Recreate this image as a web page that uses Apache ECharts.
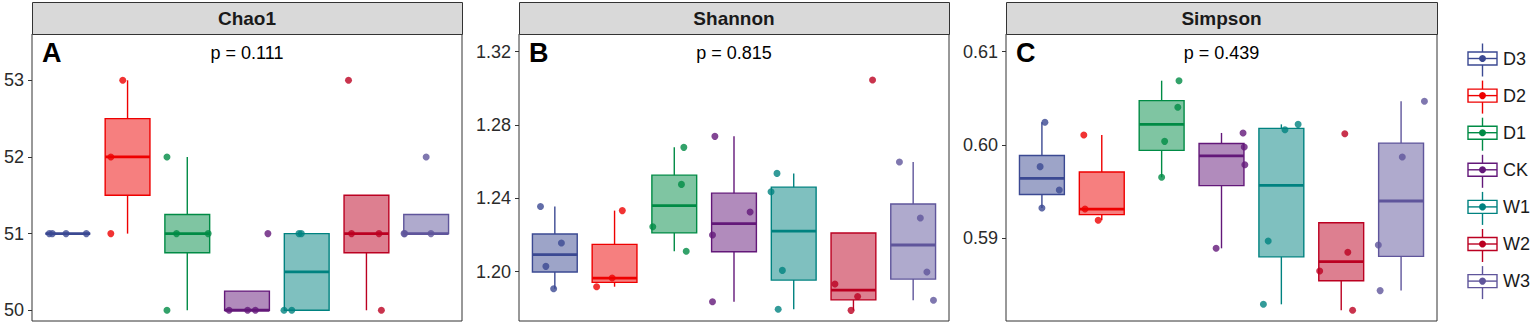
<!DOCTYPE html>
<html>
<head>
<meta charset="utf-8">
<script src="https://cdn.jsdelivr.net/npm/echarts@6/dist/echarts.min.js"></script>
<style>
html,body{margin:0;padding:0;background:#fff;}
#chart{width:1535px;height:323px;}
</style>
</head>
<body>
<div id="chart"></div>
<script>
// ---------- data ----------
const groups = ['D3', 'D2', 'D1', 'CK', 'W1', 'W2', 'W3'];
const colors = ['#3B4992', '#EE0000', '#008B45', '#631879', '#008280', '#BB0021', '#5F559B'];
const panelTitles = ['Chao1', 'Shannon', 'Simpson'];
const panelTags = ['A', 'B', 'C'];
const pLabels = ['p = 0.111', 'p = 0.815', 'p = 0.439'];

const chao1Values = [
  [51, 51, 51, 51], [53, 52, 51], [52, 51, 51, 50], [50, 50, 50, 51],
  [51, 51, 50, 50], [53, 51, 51, 50], [52, 51, 51, 51]
];
const chao1Jitter = [
  [-0.31, -0.26, -0.03, 0.31], [-0.08, -0.28, -0.28], [-0.34, -0.18, 0.35, -0.34], [-0.30, 0.01, 0.14, 0.35],
  [-0.13, -0.09, -0.38, -0.25], [-0.30, -0.25, 0.21, 0.25], [0.00, -0.37, 0.08, -0.36]
];
const shannonValues = [
  [1.2355, 1.2156, 1.2029, 1.1907], [1.2333, 1.1965, 1.1918], [1.2678, 1.2476, 1.2245, 1.2111],
  [1.2738, 1.2325, 1.2200, 1.1836], [1.2536, 1.2436, 1.2007, 1.1795], [1.3045, 1.1933, 1.1865, 1.1789],
  [1.2598, 1.2293, 1.1998, 1.1844]
];
const shannonJitter = [
  [-0.24, 0.11, -0.15, -0.02], [0.13, -0.04, -0.30], [0.16, 0.12, -0.36, 0.20], [-0.32, 0.27, -0.36, -0.36],
  [-0.28, -0.38, -0.19, -0.26], [0.32, -0.31, 0.07, -0.04], [-0.23, 0.12, 0.23, 0.34]
];
const simpsonValues = [
  [0.60243, 0.59768, 0.59518, 0.59325], [0.60107, 0.59314, 0.59193], [0.60689, 0.60404, 0.60039, 0.59654],
  [0.60129, 0.59979, 0.59789, 0.58893], [0.60221, 0.60164, 0.58971, 0.58293], [0.60120, 0.58850, 0.58650, 0.58229],
  [0.60468, 0.59871, 0.58929, 0.58440]
];
const simpsonJitter = [
  [0.05, -0.03, 0.29, 0.00], [-0.30, -0.28, -0.06], [0.29, 0.27, 0.05, 0.00], [0.36, 0.38, 0.39, -0.09],
  [0.28, 0.06, -0.22, -0.30], [0.06, 0.11, -0.36, 0.19], [0.39, 0.02, -0.38, -0.35]
];
const chao1Ticks = [50, 51, 52, 53];
const shannonTicks = [1.20, 1.24, 1.28, 1.32];
const simpsonTicks = [0.59, 0.60, 0.61];
const chao1Range = [49.86, 53.604];
const shannonRange = [1.17309, 1.32964];
const simpsonRange = [0.581143, 0.611893];

// ---------- helpers ----------
function quantile7(sorted, p) {
  const h = (sorted.length - 1) * p;
  const lo = Math.floor(h), hi = Math.ceil(h);
  return sorted[lo] + (h - lo) * (sorted[hi] - sorted[lo]);
}
function boxStats(vals) {
  const s = vals.slice().sort((a, b) => a - b);
  const q1 = quantile7(s, 0.25), med = quantile7(s, 0.5), q3 = quantile7(s, 0.75);
  const iqr = q3 - q1;
  const inside = s.filter(v => v >= q1 - 1.5 * iqr - 1e-12 && v <= q3 + 1.5 * iqr + 1e-12);
  return [q1, med, q3, Math.min(...inside), Math.max(...inside)];
}

const panels = [
  { values: chao1Values, jitter: chao1Jitter, ticks: chao1Ticks, range: chao1Range, dec: 0 },
  { values: shannonValues, jitter: shannonJitter, ticks: shannonTicks, range: shannonRange, dec: 2 },
  { values: simpsonValues, jitter: simpsonJitter, ticks: simpsonTicks, range: simpsonRange, dec: 2 }
];
const gridLefts = [32, 519, 1006];
const gridWidths = [430, 430, 431];
const gridTop = 34, gridHeight = 287;
const FONT = '"Liberation Sans", Arial, sans-serif';
const LW = 1.4;

const grids = [], xAxes = [], yAxes = [], series = [], graphics = [];

panels.forEach((pn, k) => {
  grids.push({
    left: gridLefts[k], top: gridTop, width: gridWidths[k], height: gridHeight,
    show: true, borderColor: '#333333', borderWidth: 1, backgroundColor: '#ffffff'
  });
  xAxes.push({
    type: 'value', gridIndex: k, min: 0.4, max: 7.6,
    show: false, splitLine: { show: false }
  });
  yAxes.push({
    type: 'value', gridIndex: k, min: pn.range[0], max: pn.range[1],
    axisLine: { show: false },
    splitLine: { show: false },
    axisTick: { show: true, length: 4, lineStyle: { color: '#333333', width: 1 }, customValues: pn.ticks },
    axisLabel: {
      show: true, customValues: pn.ticks, margin: 8,
      color: '#2b2b2b', fontSize: 18, fontFamily: FONT,
      formatter: v => Number(v).toFixed(pn.dec)
    }
  });

  const boxData = pn.values.map((vals, gi) => [gi + 1].concat(boxStats(vals)));
  series.push({
    type: 'custom', xAxisIndex: k, yAxisIndex: k, z: 2,
    data: boxData,
    renderItem: function (params, api) {
      const gi = api.value(0);
      const q1 = api.value(1), med = api.value(2), q3 = api.value(3), lo = api.value(4), hi = api.value(5);
      const c = colors[gi - 1];
      const tl = api.coord([gi - 0.375, q3]);
      const br = api.coord([gi + 0.375, q1]);
      const pMed = api.coord([gi, med]);
      const pHi = api.coord([gi, hi]);
      const pLo = api.coord([gi, lo]);
      const pQ3 = api.coord([gi, q3]);
      const pQ1 = api.coord([gi, q1]);
      const children = [];
      if (hi > q3) children.push({ type: 'line', shape: { x1: pQ3[0], y1: pQ3[1], x2: pHi[0], y2: pHi[1] }, style: { stroke: c, lineWidth: LW } });
      if (lo < q1) children.push({ type: 'line', shape: { x1: pQ1[0], y1: pQ1[1], x2: pLo[0], y2: pLo[1] }, style: { stroke: c, lineWidth: LW } });
      children.push({ type: 'rect', shape: { x: tl[0], y: tl[1], width: br[0] - tl[0], height: br[1] - tl[1] },
        style: { fill: echarts.color.modifyAlpha(c, 0.5), stroke: c, lineWidth: LW } });
      children.push({ type: 'line', shape: { x1: tl[0], y1: pMed[1], x2: br[0], y2: pMed[1] }, style: { stroke: c, lineWidth: LW * 2 } });
      return { type: 'group', children: children };
    }
  });

  const pts = [];
  pn.values.forEach((vals, gi) => {
    vals.forEach((v, j) => {
      pts.push({ value: [gi + 1 + pn.jitter[gi][j], v], itemStyle: { color: colors[gi] } });
    });
  });
  series.push({
    type: 'scatter', xAxisIndex: k, yAxisIndex: k, z: 3,
    symbol: 'circle', symbolSize: 7, data: pts, silent: true
  });

  // strip
  graphics.push({
    type: 'rect', left: gridLefts[k], top: 2,
    shape: { x: 0, y: 0, width: gridWidths[k], height: 32 },
    style: { fill: '#D9D9D9', stroke: '#333333', lineWidth: 1 }
  });
  graphics.push({
    type: 'text', x: gridLefts[k] + gridWidths[k] / 2, y: 18,
    style: { text: panelTitles[k], fill: '#1A1A1A', font: 'bold 19px ' + FONT, textAlign: 'center', textVerticalAlign: 'middle' }
  });
  // tag
  graphics.push({
    type: 'text', x: gridLefts[k] + 10, y: 53,
    style: { text: panelTags[k], fill: '#000000', font: 'bold 27px ' + FONT, textAlign: 'left', textVerticalAlign: 'middle' }
  });
  // p label
  graphics.push({
    type: 'text', x: gridLefts[k] + gridWidths[k] / 2, y: 53,
    style: { text: pLabels[k], fill: '#000000', font: '18px ' + FONT, textAlign: 'center', textVerticalAlign: 'middle' }
  });
});

// legend
const legX = 1468, legW = 29, legCy0 = 58.5, legStep = 37.1;
groups.forEach((g, i) => {
  const cy = legCy0 + i * legStep;
  const c = colors[i];
  const cx = legX + legW / 2;
  graphics.push({ type: 'line', shape: { x1: cx, y1: cy - 15, x2: cx, y2: cy + 18 }, style: { stroke: c, lineWidth: LW } });
  graphics.push({ type: 'rect', shape: { x: legX, y: cy - 6.5, width: legW, height: 13 }, style: { fill: '#ffffff', stroke: c, lineWidth: LW } });
  graphics.push({ type: 'line', shape: { x1: legX, y1: cy, x2: legX + legW, y2: cy }, style: { stroke: c, lineWidth: LW } });
  graphics.push({ type: 'circle', shape: { cx: cx, cy: cy, r: 3.5 }, style: { fill: c } });
  graphics.push({ type: 'text', x: 1503, y: cy, style: { text: g, fill: '#1A1A1A', font: '18px ' + FONT, textAlign: 'left', textVerticalAlign: 'middle' } });
});

const chart = echarts.init(document.getElementById('chart'), null, { renderer: 'svg' });
chart.setOption({
  animation: false,
  backgroundColor: '#ffffff',
  grid: grids,
  xAxis: xAxes,
  yAxis: yAxes,
  series: series,
  graphic: graphics
});
</script>
</body>
</html>
